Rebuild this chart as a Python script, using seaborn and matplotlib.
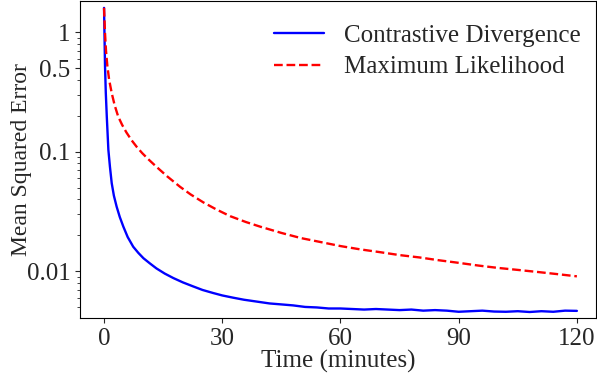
import pandas as pd
import matplotlib
matplotlib.use("Agg")
import matplotlib.pyplot as plt
import seaborn as sns

# values (time in minutes, MSE)
cd_time = [0, 0.25, 0.45, 0.7, 1.1, 1.5, 1.95, 2.5, 3.2, 4.0, 4.9, 6.0, 7.4, 8.7,
           10, 11.6, 13.3, 15.4, 17.6, 20, 22.6, 25, 27.7, 30, 32.8, 35.5, 38.7,
           42, 45, 48, 51, 54, 57, 60, 63, 66, 69, 72, 75, 78, 81, 84, 87, 90,
           93, 96, 99, 102, 105, 108, 111, 114, 117, 120]
cd_mse = [1.6, 0.52, 0.31, 0.197, 0.104, 0.075, 0.0547, 0.043, 0.0348, 0.0285,
          0.0237, 0.0194, 0.0161, 0.0143, 0.0129, 0.0117, 0.0106, 0.0096, 0.0088,
          0.0081, 0.0075, 0.0070, 0.00660, 0.0063, 0.00603, 0.0058, 0.0056,
          0.0054, 0.0053, 0.0052, 0.00505, 0.0050, 0.0049, 0.0049, 0.00485,
          0.0048, 0.00485, 0.0048, 0.00475, 0.0048, 0.0047, 0.00475, 0.0047,
          0.0046, 0.00465, 0.0047, 0.00462, 0.0046, 0.00465, 0.00458, 0.00465,
          0.0046, 0.0047, 0.00468]

ml_time = [0, 0.25, 0.5, 0.85, 1.3, 1.95, 2.7, 3.6, 4.6, 5.7, 7.0, 8.3, 9.7, 11.2,
           13.3, 16, 19.3, 22, 25.2, 28.5, 32, 36, 39.6, 45, 50, 55, 60, 65, 70,
           75, 80, 85, 90, 95, 100, 105, 110, 115, 120]
ml_mse = [1.6, 0.98, 0.7, 0.52, 0.4, 0.31, 0.245, 0.197, 0.168, 0.145, 0.125,
          0.110, 0.0975, 0.087, 0.075, 0.0625, 0.051, 0.044, 0.0378, 0.0330,
          0.0290, 0.0259, 0.0237, 0.0210, 0.0190, 0.0176, 0.0163, 0.0153, 0.0145,
          0.0137, 0.0131, 0.0124, 0.0118, 0.0112, 0.0107, 0.0103, 0.0099,
          0.0095, 0.0091]

y_ticks = [0.01, 0.1, 0.5, 1]
y_labels = ["0.01", "0.1", "0.5", "1"]
x_ticks = [0, 30, 60, 90, 120]

cd = pd.DataFrame({"time": cd_time, "mse": cd_mse})
ml = pd.DataFrame({"time": ml_time, "mse": ml_mse})

sns.set_style("ticks")
plt.rcParams["font.family"] = ["Liberation Serif", "DejaVu Serif"]
plt.rcParams["font.size"] = 18

fig = plt.figure(figsize=(5.97, 3.75), dpi=100)
ax = fig.add_axes([0.134, 0.152, 0.864, 0.846])

sns.lineplot(data=cd, x="time", y="mse", color="blue", lw=1.7,
             label="Contrastive Divergence", ax=ax)
sns.lineplot(data=ml, x="time", y="mse", color="red", lw=1.7, linestyle="--",
             label="Maximum Likelihood", ax=ax)

ax.set_yscale("log")
ax.set_xlim(-6.1, 124.8)
ax.set_ylim(0.00408, 1.835)
ax.set_yticks(y_ticks)
ax.set_yticklabels(y_labels)
ax.set_xticks(x_ticks)
ax.tick_params(labelsize=18)
ax.set_xlabel("Time (minutes)", fontsize=18, labelpad=0)
ax.set_ylabel("Mean Squared Error", fontsize=17, labelpad=-4)
for s in ax.spines.values():
    s.set_color("black")

ax.legend(loc="upper right", bbox_to_anchor=(1.005, 0.98), frameon=False,
          fontsize=18, borderaxespad=0.3, labelspacing=0.35)

plt.savefig("out.png", dpi=100)
